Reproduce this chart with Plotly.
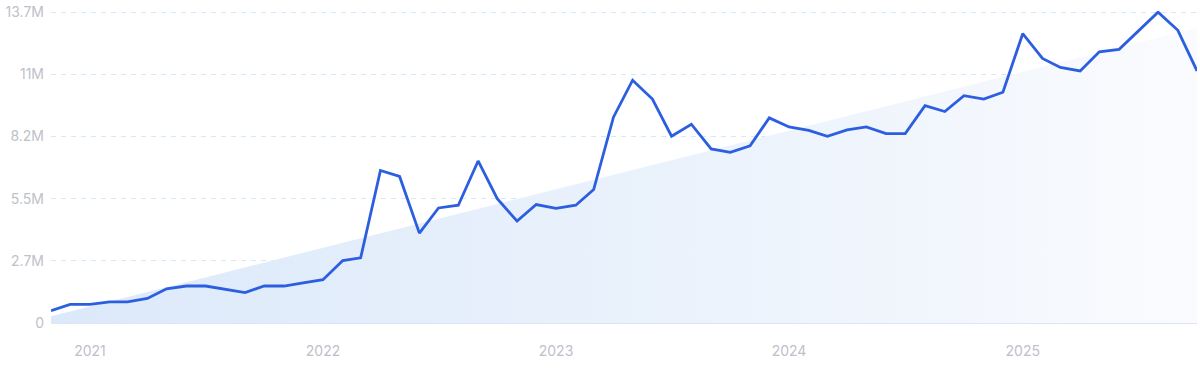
import plotly.graph_objects as go
import pandas as pd

# Monthly values (millions), Nov 2020 .. Oct 2025
months = pd.date_range("2020-11-01", "2025-10-01", freq="MS")
values_m = [
    0.54, 0.82, 0.82, 0.93, 0.93, 1.08, 1.51, 1.63, 1.63, 1.49,
    1.34, 1.63, 1.63, 1.77, 1.91, 2.75, 2.87, 6.72, 6.46, 3.96,
    5.07, 5.19, 7.14, 5.48, 4.49, 5.22, 5.05, 5.19, 5.88, 9.07,
    10.70, 9.87, 8.23, 8.76, 7.67, 7.52, 7.81, 9.04, 8.64, 8.49,
    8.23, 8.51, 8.64, 8.35, 8.35, 9.58, 9.32, 10.02, 9.87, 10.17,
    12.75, 11.66, 11.26, 11.11, 11.95, 12.06, 12.88, 13.70, 12.90, 11.11,
]
values = [round(v * 1e6) for v in values_m]

# Trend line endpoints (millions)
trend_start_m = 0.30
trend_end_m = 13.0
trend_x = [months[0], months[-1]]
trend_y = [round(trend_start_m * 1e6), round(trend_end_m * 1e6)]

y_tickvals = [0, 2740000, 5480000, 8220000, 10960000, 13700000]
y_ticktext = ["0", "2.7M", "5.5M", "8.2M", "11M", "13.7M"]
x_tickvals = ["2021-01-01", "2022-01-01", "2023-01-01", "2024-01-01", "2025-01-01"]
x_ticktext = ["2021", "2022", "2023", "2024", "2025"]

fig = go.Figure()
fig.add_trace(go.Scatter(
    x=trend_x, y=trend_y, mode="lines", line=dict(width=0),
    fill="tozeroy",
    fillgradient=dict(type="horizontal",
                      colorscale=[[0, "rgb(220,233,250)"], [0.6, "rgb(236,243,252)"], [1, "rgb(250,251,254)"]]),
    hoverinfo="skip", showlegend=False,
))
fig.add_trace(go.Scatter(
    x=months, y=values, mode="lines",
    line=dict(color="rgb(44,94,224)", width=2.8),
    showlegend=False, cliponaxis=False,
))

fig.update_layout(
    width=1200, height=372,
    margin=dict(l=51, r=3, t=8, b=49),
    paper_bgcolor="white", plot_bgcolor="white",
    font=dict(family="Inter, Roboto, sans-serif", size=13, color="rgb(190,192,202)"),
)
fig.update_xaxes(
    range=[months[0], months[-1]],
    tickvals=x_tickvals, ticktext=x_ticktext,
    showgrid=False, zeroline=False, showline=False,
    ticks="", ticklabelstandoff=18,
    tickfont=dict(size=14, color="rgb(190,192,202)"),
)
fig.update_yaxes(
    range=[0, 13750000],
    tickvals=y_tickvals, ticktext=y_ticktext,
    showgrid=True, gridcolor="rgb(212,232,250)", griddash="5px,5px", gridwidth=1,
    zeroline=True, zerolinecolor="rgb(222,228,246)", zerolinewidth=2,
    showline=False, ticks="", ticklabelstandoff=6,
    tickfont=dict(size=14, color="rgb(190,192,202)"),
)

fig.write_html("out.html")
